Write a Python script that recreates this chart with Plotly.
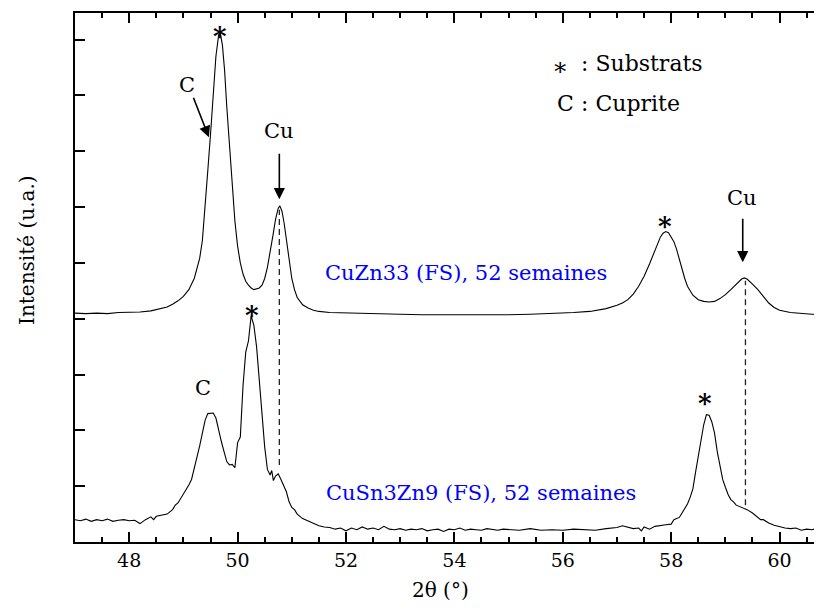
import plotly.graph_objects as go

# ---------------- data ----------------
x_cuzn = [47.0, 47.2, 47.4, 47.6, 47.8, 48.0, 48.2, 48.4, 48.6, 48.7, 48.8, 48.9, 49.0, 49.1, 49.2, 49.25,
          49.3, 49.35, 49.4, 49.45, 49.5, 49.55, 49.6, 49.65, 49.68, 49.72, 49.76, 49.8, 49.85, 49.9, 49.95,
          50.0, 50.05, 50.1, 50.15, 50.2, 50.25, 50.3, 50.35, 50.4, 50.45, 50.5, 50.55, 50.6, 50.65, 50.7,
          50.75, 50.78, 50.82, 50.86, 50.9, 50.95, 51.0, 51.05, 51.1, 51.2, 51.3, 51.4, 51.5, 51.7, 52.0,
          52.3, 52.6, 53.0, 53.4, 53.8, 54.2, 54.6, 55.0, 55.4, 55.8, 56.2, 56.5, 56.8, 57.0, 57.1, 57.2,
          57.3, 57.4, 57.5, 57.6, 57.7, 57.75, 57.8, 57.85, 57.9, 57.95, 58.0, 58.05, 58.1, 58.15, 58.2,
          58.25, 58.3, 58.4, 58.5, 58.6, 58.7, 58.8, 58.9, 59.0, 59.1, 59.2, 59.3, 59.35, 59.4, 59.5, 59.6,
          59.7, 59.8, 59.9, 60.0, 60.2, 60.4, 60.6, 60.8]
y_cuzn = [4.10, 4.09, 4.10, 4.09, 4.11, 4.11, 4.12, 4.14, 4.18, 4.21, 4.26, 4.32, 4.40, 4.52, 4.72, 4.88,
          5.08, 5.40, 5.95, 6.65, 7.30, 8.05, 8.70, 9.08, 9.12, 8.90, 8.45, 7.80, 7.05, 6.35, 5.75,
          5.30, 5.00, 4.80, 4.67, 4.60, 4.55, 4.52, 4.53, 4.55, 4.60, 4.72, 4.92, 5.18, 5.48, 5.78,
          5.98, 6.02, 5.92, 5.70, 5.40, 5.02, 4.72, 4.52, 4.38, 4.25, 4.19, 4.15, 4.13, 4.11, 4.10,
          4.09, 4.08, 4.08, 4.07, 4.07, 4.07, 4.06, 4.07, 4.08, 4.09, 4.11, 4.13, 4.18, 4.24, 4.28, 4.34,
          4.44, 4.58, 4.76, 4.98, 5.22, 5.35, 5.46, 5.53, 5.56, 5.54, 5.47, 5.38, 5.24, 5.06, 4.88,
          4.72, 4.58, 4.42, 4.34, 4.31, 4.30, 4.31, 4.36, 4.43, 4.52, 4.62, 4.71, 4.73, 4.71, 4.62, 4.52,
          4.40, 4.28, 4.20, 4.15, 4.11, 4.09, 4.08, 4.07]

x_cusn = [47.0, 47.1, 47.2, 47.3, 47.4, 47.5, 47.6, 47.7, 47.8, 47.9, 48.0, 48.1, 48.2, 48.3, 48.4, 48.45,
          48.5, 48.6, 48.7, 48.8, 48.85, 48.9, 49.0, 49.1, 49.15, 49.2, 49.25, 49.3, 49.35, 49.4, 49.45,
          49.5, 49.55, 49.6, 49.65, 49.7, 49.75, 49.8, 49.85, 49.9, 49.95, 50.0, 50.05, 50.1, 50.15, 50.2,
          50.25, 50.3, 50.35, 50.4, 50.45, 50.5, 50.55, 50.6, 50.63, 50.66, 50.7, 50.75, 50.8, 50.85, 50.9,
          50.95, 51.0, 51.05, 51.1, 51.2, 51.3, 51.4, 51.5, 51.6, 51.7, 51.8, 51.9, 52.0, 52.1, 52.2, 52.3,
          52.4, 52.5, 52.6, 52.7, 52.8, 52.9, 53.0, 53.1, 53.2, 53.3, 53.4, 53.5, 53.6, 53.7, 53.8, 53.9,
          54.0, 54.1, 54.2, 54.3, 54.4, 54.5, 54.6, 54.7, 54.8, 54.9, 55.0, 55.2, 55.4, 55.6, 55.8, 56.0,
          56.2, 56.4, 56.6, 56.8, 57.0, 57.1, 57.2, 57.3, 57.4, 57.45, 57.5, 57.6, 57.7, 57.8, 57.9, 58.0,
          58.05, 58.1, 58.15, 58.2, 58.25, 58.3, 58.35, 58.4, 58.45, 58.5, 58.55, 58.6, 58.65, 58.7, 58.75,
          58.8, 58.85, 58.9, 58.95, 59.0, 59.05, 59.1, 59.15, 59.2, 59.3, 59.4, 59.5, 59.6, 59.65, 59.7,
          59.8, 59.9, 60.0, 60.1, 60.2, 60.3, 60.4, 60.5, 60.6, 60.7, 60.8]
y_cusn = [0.40, 0.38, 0.41, 0.37, 0.40, 0.38, 0.41, 0.37, 0.39, 0.40, 0.38, 0.39, 0.33, 0.40, 0.45, 0.40,
          0.46, 0.48, 0.50, 0.58, 0.66, 0.70, 0.85, 1.02, 1.12, 1.30, 1.52, 1.72, 1.95, 2.18, 2.30,
          2.30, 2.31, 2.22, 1.98, 1.80, 1.62, 1.44, 1.38, 1.39, 1.33, 1.78, 1.88, 2.80, 3.40, 3.60,
          4.05, 3.88, 3.50, 2.90, 2.25, 1.70, 1.30, 1.20, 1.28, 1.10, 1.18, 1.22, 1.12, 1.02, 0.90,
          0.72, 0.62, 0.58, 0.50, 0.42, 0.38, 0.33, 0.29, 0.27, 0.26, 0.23, 0.25, 0.20, 0.25, 0.22, 0.27,
          0.23, 0.25, 0.22, 0.28, 0.23, 0.22, 0.24, 0.21, 0.23, 0.22, 0.24, 0.20, 0.22, 0.23, 0.19, 0.23,
          0.22, 0.25, 0.21, 0.23, 0.22, 0.21, 0.24, 0.22, 0.21, 0.23, 0.22, 0.21, 0.24, 0.21, 0.22, 0.21,
          0.23, 0.22, 0.21, 0.24, 0.26, 0.29, 0.26, 0.24, 0.25, 0.20, 0.27, 0.23, 0.28, 0.30, 0.31, 0.32,
          0.40, 0.42, 0.44, 0.52, 0.60, 0.68, 0.80, 0.95, 1.25, 1.55, 1.85, 2.10, 2.28, 2.27, 2.15,
          1.95, 1.62, 1.35, 1.12, 0.98, 0.85, 0.76, 0.72, 0.66, 0.62, 0.58, 0.52, 0.44, 0.40, 0.40,
          0.34, 0.30, 0.27, 0.25, 0.24, 0.25, 0.21, 0.23, 0.22, 0.25, 0.21]

# Cu reference lines (dashed)
cu_x = [50.77, 59.37]
cu_top = [5.95, 4.68]
cu_bottom = [1.38, 0.66]

# peak markers
star_x = [49.68, 50.27, 57.89, 58.62]
star_y = [9.20, 4.21, 5.80, 2.63]

x_ticks = [48, 50, 52, 54, 56, 58, 60]
x_tick_labels = ["48", "50", "52", "54", "56", "58", "60"]

FONT = "DejaVu Serif"

fig = go.Figure()
fig.add_trace(go.Scatter(x=x_cuzn, y=y_cuzn, mode="lines",
                         line=dict(color="black", width=1.1), showlegend=False))
fig.add_trace(go.Scatter(x=x_cusn, y=y_cusn, mode="lines",
                         line=dict(color="black", width=1.1), showlegend=False))
for xv, yt, yb in zip(cu_x, cu_top, cu_bottom):
    fig.add_trace(go.Scatter(x=[xv, xv], y=[yb, yt], mode="lines",
                             line=dict(color="#222222", width=1.3, dash="6px,4px"),
                             showlegend=False))

ann = []
for xs, ys in zip(star_x, star_y):
    ann.append(dict(x=xs, y=ys, xref="x", yref="y", text="<b>*</b>", showarrow=False,
                    font=dict(family=FONT, size=26, color="black"), yshift=-8))


def lab(x, y, t, size=21):
    ann.append(dict(x=x, y=y, xref="x", yref="y", text=t, showarrow=False,
                    font=dict(family=FONT, size=size, color="black")))


lab(49.07, 8.18, "C")
lab(50.77, 7.36, "Cu")
lab(59.31, 6.16, "Cu")
lab(49.36, 2.76, "C")


def arrow(x, y, ax, ay):
    ann.append(dict(x=x, y=y, xref="x", yref="y", ax=ax, ay=ay, axref="pixel", ayref="pixel",
                    text="", showarrow=True, arrowhead=2, arrowsize=1.4, arrowwidth=1.6,
                    arrowcolor="black"))


arrow(49.47, 7.25, -16, -41)
arrow(50.77, 6.14, 0, -47)
arrow(59.32, 5.01, 0, -45)

ann.append(dict(x=51.58, y=4.82, xref="x", yref="y", xanchor="left", text="CuZn33 (FS), 52 semaines",
                showarrow=False, font=dict(family=FONT, size=21, color="#0000ff")))
ann.append(dict(x=51.59, y=0.88, xref="x", yref="y", xanchor="left", text="CuSn3Zn9 (FS), 52 semaines",
                showarrow=False, font=dict(family=FONT, size=21, color="#0000ff")))

# key
ann.append(dict(x=55.95, y=8.50, xref="x", yref="y", text="∗", showarrow=False,
                font=dict(family=FONT, size=24, color="black")))
ann.append(dict(x=56.30, y=8.57, xref="x", yref="y", xanchor="left", text=": Substrats", showarrow=False,
                font=dict(family=FONT, size=22, color="black")))
ann.append(dict(x=56.05, y=7.86, xref="x", yref="y", text="C", showarrow=False,
                font=dict(family=FONT, size=22, color="black")))
ann.append(dict(x=56.30, y=7.86, xref="x", yref="y", xanchor="left", text=": Cuprite", showarrow=False,
                font=dict(family=FONT, size=22, color="black")))

ann.append(dict(x=0.494, y=-0.091, xref="paper", yref="paper", text="2θ (°)", showarrow=False,
                yanchor="middle", font=dict(family=FONT, size=20, color="black")))
ann.append(dict(x=-0.065, y=0.552, xref="paper", yref="paper", text="Intensité (u.a.)", showarrow=False,
                textangle=-90, xanchor="center", yanchor="middle",
                font=dict(family=FONT, size=20, color="black")))

fig.update_layout(
    width=806, height=596,
    margin=dict(l=67, r=0, t=5, b=62, autoexpand=False),
    plot_bgcolor="white", paper_bgcolor="white",
    annotations=ann,
    font=dict(family=FONT, color="black"),
)
fig.update_xaxes(range=[47, 60.635], tickvals=x_ticks, ticktext=x_tick_labels,
                 ticks="inside", ticklen=10, tickwidth=1.8, tickcolor="black",
                 showline=True, linewidth=2, linecolor="black", mirror="ticks",
                 showgrid=False, zeroline=False,
                 tickfont=dict(family=FONT, size=19, color="black"),
                 minor=dict(dtick=0.5, tick0=47, ticks="inside", ticklen=5, tickwidth=1.5,
                            tickcolor="black", showgrid=False))
fig.update_yaxes(range=[0, 9.475], dtick=1, tick0=0, ticks="inside", ticklen=10, tickwidth=1.5,
                 tickcolor="black", showticklabels=False, showline=True, linewidth=2,
                 linecolor="black", mirror=False, showgrid=False, zeroline=False)

fig.write_html("out.html")
